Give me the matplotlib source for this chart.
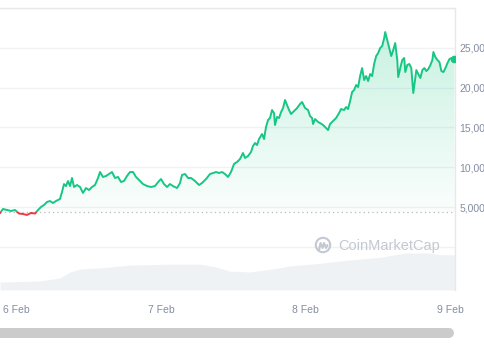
import numpy as np
import matplotlib
matplotlib.use('Agg')
import matplotlib.pyplot as plt
from matplotlib.patches import Circle
from matplotlib.lines import Line2D

plt.rcParams['font.family'] = ['Liberation Sans', 'DejaVu Sans']

# ── data (hours since 6 Feb 00:00) ─────────────────────────────
hours = [-2.74, -2.24, -1.58, -0.91, -0.25, 0.42, 1.08, 1.74, 2.41, 3.07,
         3.57, 4.07, 4.57, 5.07, 5.56, 6.06, 6.56, 7.22, 7.56, 7.89,
         8.22, 8.55, 8.89, 9.22, 9.55, 10.05, 10.55, 11.05, 11.54, 12.04,
         12.54, 13.04, 13.54, 13.87, 14.37, 14.87, 15.36, 15.86, 16.36, 16.86,
         17.36, 17.85, 18.35, 18.85, 19.35, 19.85, 20.35, 21.01, 21.68, 22.34,
         23.00, 23.67, 24.00, 24.50, 25.00, 25.49, 25.99, 26.66, 27.16, 27.49,
         27.99, 28.49, 28.99, 29.65, 30.32, 30.81, 31.48, 32.14, 32.64, 33.14,
         33.64, 34.14, 34.63, 35.13, 35.63, 36.13, 36.63, 37.12, 37.62, 37.96,
         38.45, 38.95, 39.28, 39.62, 39.95, 40.28, 40.78, 41.11, 41.44, 41.78,
         42.11, 42.44, 42.77, 42.94, 43.27, 43.61, 43.94, 44.27, 44.60, 44.94,
         45.27, 45.60, 46.10, 46.60, 47.09, 47.43, 47.93, 48.42, 48.76, 49.09,
         49.26, 49.59, 50.09, 50.42, 50.92, 51.42, 51.75, 52.08, 52.58, 53.08,
         53.58, 53.91, 54.41, 54.74, 55.07, 55.41, 55.74, 56.07, 56.41, 56.74,
         57.07, 57.40, 57.74, 58.07, 58.40, 58.74, 59.07, 59.40, 59.74, 60.07,
         60.40, 60.74, 61.07, 61.24, 61.57, 61.90, 62.24, 62.57, 62.90, 63.24,
         63.40, 63.74, 64.07, 64.40, 64.57, 64.90, 65.24, 65.57, 65.90, 66.24,
         66.41, 66.74, 67.07, 67.41, 67.74, 68.07, 68.41, 68.74, 69.07, 69.24,
         69.57, 69.91, 70.24, 70.57, 70.91, 71.24, 71.58, 71.91, 72.24, 72.74]
price = [4270, 4770, 4640, 4520, 4640, 4200, 4140, 4020, 4270, 4200,
         4640, 5020, 5270, 5650, 5770, 5520, 5770, 6020, 6900, 7900,
         7650, 8280, 7650, 8660, 7530, 7780, 7530, 6780, 7400, 7150,
         7530, 7780, 8660, 9410, 8790, 8910, 9160, 9410, 8660, 8790,
         8160, 8280, 8910, 9410, 9410, 8790, 8410, 7900, 7650, 7530,
         7650, 8280, 8530, 7900, 7530, 7900, 7650, 7400, 8030, 9040,
         9160, 8660, 8660, 8280, 7780, 8030, 8530, 9160, 9290, 9410,
         9290, 9410, 9160, 8790, 9410, 10420, 10670, 11040, 11800, 11170,
         11420, 11920, 12680, 13050, 12800, 13550, 14180, 13550, 15060, 15940,
         16190, 17190, 16820, 15310, 16320, 16190, 16940, 17440, 18450, 17820,
         17190, 16690, 17070, 17440, 17950, 18200, 17440, 17190, 16440, 16190,
         15440, 16060, 15690, 15560, 15310, 14930, 14680, 15440, 15810, 16190,
         16820, 17320, 17190, 17570, 17320, 18320, 19450, 19700, 20330, 20080,
         21460, 22460, 20960, 21460, 20830, 21710, 21460, 22970, 23970, 24350,
         24970, 25230, 26230, 26980, 25980, 24970, 23970, 24720, 25600, 23470,
         21330, 22460, 23470, 23720, 21960, 22840, 22970, 22460, 19330, 21210,
         22210, 21710, 21210, 22210, 22460, 22080, 22340, 22840, 23470, 24470,
         23840, 23470, 23220, 22080, 21960, 22460, 23090, 23590, 23720, 23590]

vol_hours = [-2.74, 3.90, 7.22, 8.89, 10.55, 13.87, 18.85, 25.49, 30.48, 32.97,
             35.46, 38.78, 42.11, 45.43, 50.41, 55.39, 60.37, 64.52, 68.67, 70.34,
             72.83]
volume = [9.3, 10.5, 14, 21, 24.4, 25.6, 29, 30, 30, 27,
          22, 21, 24, 28, 31, 35, 38, 43, 43, 41,
          41]

open_price = 4330
day_ticks = [0, 24, 48, 72]
day_labels = ['6 Feb', '7 Feb', '8 Feb', '9 Feb']
price_ticks = [5000, 10000, 15000, 20000, 25000]
grid_levels = [0, 5000, 10000, 15000, 20000, 25000, 30000]

GREEN = '#16c784'
RED = '#ea3943'
LABEL = '#858ca2'
GRID = '#f1f2f4'
MARK = '#c3c9d3'

# ── figure ──────────────────────────────────────────────────────
W, H = 485, 360
fig = plt.figure(figsize=(W / 100, H / 100), dpi=100)
xmin, xmax = -2.74, 72.83

# volume axes (behind)
axv = fig.add_axes([0, 1 - 290 / H, 455 / W, 43 / H])
axv.fill_between(vol_hours, 0, volume, color='#eff2f5', lw=0)
axv.set_xlim(xmin, xmax)
axv.set_ylim(0, 50)
axv.axis('off')

# price axes
ax = fig.add_axes([0, 1 - 290 / H, 455 / W, 282 / H])
ax.patch.set_alpha(0)
ax.set_xlim(xmin, xmax)
ax.set_ylim(-5400, 30000)

for lv in grid_levels:
    ax.axhline(lv, color=GRID, lw=1, zorder=1)

# gradient fill above the opening price
poly = ax.fill_between(hours, open_price, price, color='none', lw=0)
rgba = np.zeros((256, 1, 4))
rgba[..., :3] = matplotlib.colors.to_rgb(GREEN)
rgba[:, 0, 3] = np.linspace(0.02, 0.24, 256)
img = ax.imshow(rgba, extent=[xmin, xmax, open_price, 27500], origin='lower',
                aspect='auto', zorder=2, interpolation='bilinear')
img.set_clip_path(poly.get_paths()[0], transform=ax.transData)

# dotted opening-price line
ax.axhline(open_price, color='#b5b9c2', lw=0.9, ls=(0, (1, 2.5)), zorder=2)

# price line: green above open, red below
up, = ax.plot(hours, price, color=GREEN, lw=1.4, zorder=4, solid_joinstyle='round')
dn, = ax.plot(hours, price, color=RED, lw=1.4, zorder=4, solid_joinstyle='round')
up.set_clip_path(plt.Rectangle((xmin, open_price), xmax - xmin, 40000,
                               transform=ax.transData))
dn.set_clip_path(plt.Rectangle((xmin, -40000), xmax - xmin, 40000 + open_price,
                               transform=ax.transData))
ax.plot(hours[-1], price[-1], 'o', color=GREEN, ms=4.5, zorder=5)

for s in ['left', 'bottom']:
    ax.spines[s].set_visible(False)
for s in ['top', 'right']:
    ax.spines[s].set_color('#e6e8ec')
    ax.spines[s].set_linewidth(1)

ax.yaxis.tick_right()
ax.set_yticks(price_ticks)
ax.set_yticklabels([f'{v:,}' for v in price_ticks])
ax.tick_params(axis='y', length=0, pad=3, labelsize=7.5, labelcolor=LABEL)
ax.set_xticks(day_ticks)
ax.set_xticklabels(day_labels)
ax.tick_params(axis='x', length=0, pad=10.5, labelsize=7.5, labelcolor=LABEL)

# watermark
fig.patches.append(Circle((3.23, (H - 245) / 100), 0.072, fill=False, ec=MARK,
                          lw=1.5, transform=fig.dpi_scale_trans, figure=fig))
fig.lines.append(Line2D([3.19, 3.205, 3.225, 3.24, 3.26, 3.275],
                        [1.10, 1.17, 1.12, 1.17, 1.12, 1.15],
                        color=MARK, lw=1.5, transform=fig.dpi_scale_trans,
                        figure=fig, solid_capstyle='round'))
fig.text(338 / W, 1 - 246 / H, 'CoinMarketCap', color=MARK, fontsize=10.5,
         va='center', ha='left')

# scrollbar
fig.lines.append(Line2D([-5 / W, 449 / W], [1 - 333 / H, 1 - 333 / H], color='#cbcbcb',
                        lw=7.2, solid_capstyle='round', transform=fig.transFigure,
                        figure=fig))

fig.savefig('out.png', dpi=100)
